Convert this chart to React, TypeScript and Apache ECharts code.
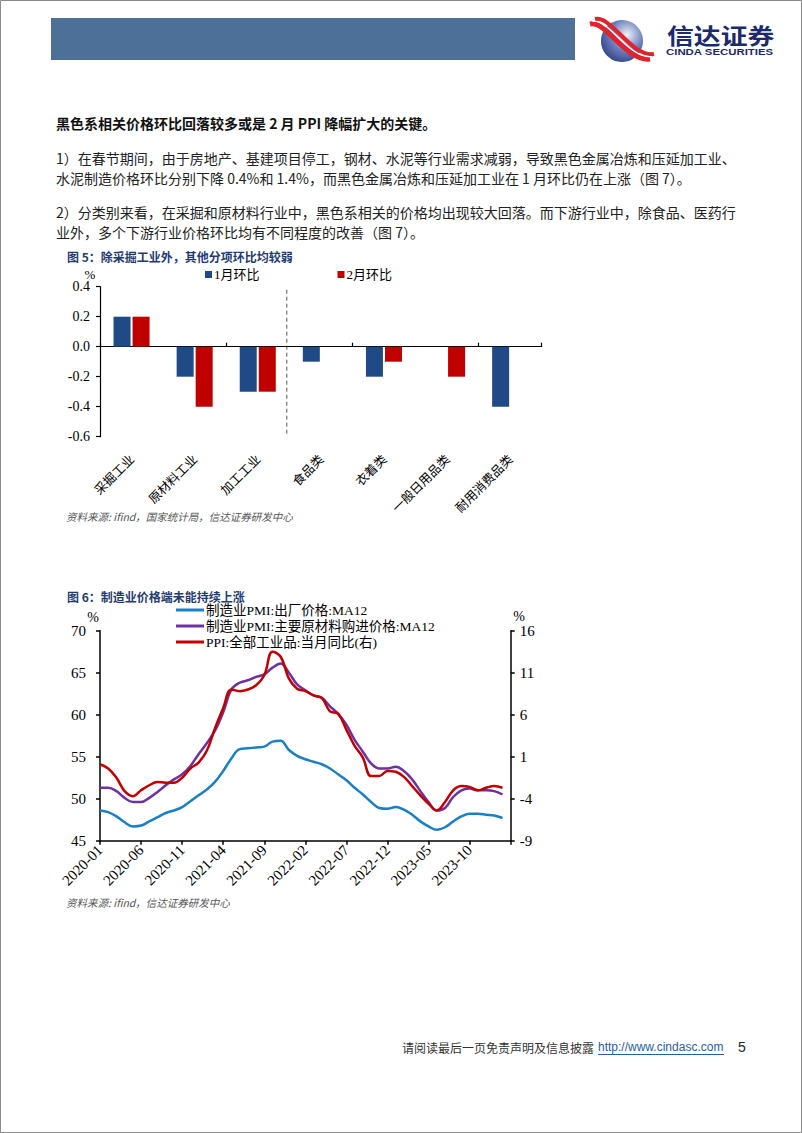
import React, { useEffect, useRef } from "react";
import * as echarts from "echarts";

// ---------- Data: figure 5 ----------
const barCategories = ["采掘工业", "原材料工业", "加工工业", "食品类", "衣着类", "一般日用品类", "耐用消费品类"];
const barSeriesNames = ["1月环比", "2月环比"];
const janMoM = [0.2, -0.2, -0.3, -0.1, -0.2, 0, -0.4];
const febMoM = [0.2, -0.4, -0.3, 0, -0.1, -0.2, 0];
const barYTicks = { min: -0.6, max: 0.4, interval: 0.2 };

// ---------- Data: figure 6 ----------
const months = [
  "2020-01", "2020-02", "2020-03", "2020-04", "2020-05", "2020-06", "2020-07", "2020-08", "2020-09", "2020-10", "2020-11", "2020-12",
  "2021-01", "2021-02", "2021-03", "2021-04", "2021-05", "2021-06", "2021-07", "2021-08", "2021-09", "2021-10", "2021-11", "2021-12",
  "2022-01", "2022-02", "2022-03", "2022-04", "2022-05", "2022-06", "2022-07", "2022-08", "2022-09", "2022-10", "2022-11", "2022-12",
  "2023-01", "2023-02", "2023-03", "2023-04", "2023-05", "2023-06", "2023-07", "2023-08", "2023-09", "2023-10", "2023-11", "2023-12",
  "2024-01", "2024-02", "2024-03",
];
const lineSeriesNames = ["制造业PMI:出厂价格:MA12", "制造业PMI:主要原材料购进价格:MA12", "PPI:全部工业品:当月同比(右)"];
const pmiOutputMA12 = [
  48.6, 48.4, 47.9, 47.2, 46.7, 46.8, 47.3, 47.8, 48.3, 48.6, 49.0, 49.7,
  50.4, 51.1, 52.0, 53.3, 54.8, 55.9, 56.0, 56.1, 56.2, 56.8, 56.9, 55.8,
  55.1, 54.7, 54.4, 54.1, 53.6, 52.9, 52.2, 51.3, 50.5, 49.6, 48.9, 48.8,
  49.0, 48.7, 48.1, 47.3, 46.7, 46.3, 46.6, 47.3, 47.9, 48.2, 48.2, 48.1,
  48.0, 47.7, null,
];
const pmiInputMA12 = [
  51.3, 51.3, 50.9, 50.1, 49.6, 49.6, 50.1, 50.8, 51.6, 52.3, 52.9, 53.9,
  55.3, 56.6, 58.1, 60.3, 63.0, 63.8, 64.1, 64.5, 64.8, 65.6, 66.1, 65.0,
  63.6, 62.9, 62.3, 62.0, 61.0, 60.1, 58.8, 57.0, 55.6, 54.2, 53.6, 53.6,
  53.8, 53.3, 52.3, 50.9, 49.6, 48.6, 48.9, 50.2, 51.0, 51.2, 51.0, 51.0,
  50.9, 50.5, null,
];
const ppiYoY = [
  0.1, -0.4, -1.5, -3.1, -3.7, -3.0, -2.4, -2.0, -2.1, -2.1, -1.5, -0.4,
  0.3, 1.7, 4.4, 6.8, 9.0, 8.8, 9.0, 9.5, 10.7, 13.5, 12.9, 10.3,
  9.1, 8.8, 8.3, 8.0, 6.4, 6.1, 4.2, 2.3, 0.9, -1.3, -1.3, -0.7,
  -0.8, -1.4, -2.5, -3.6, -4.6, -5.4, -4.4, -3.0, -2.5, -2.6, -3.0, -2.7,
  -2.5, -2.7, null,
];
const leftTicks = { min: 45, max: 70, interval: 5 };
const rightTicks = { min: -9, max: 16, interval: 5 };
const labelEvery = 5;

// ---------- Page text ----------
const bodyLines = [
  "黑色系相关价格环比回落较多或是 2 月 PPI 降幅扩大的关键。",
  "1）在春节期间，由于房地产、基建项目停工，钢材、水泥等行业需求减弱，导致黑色金属冶炼和压延加工业、",
  "水泥制造价格环比分别下降 0.4%和 1.4%，而黑色金属冶炼和压延加工业在 1 月环比仍在上涨（图 7）。",
  "2）分类别来看，在采掘和原材料行业中，黑色系相关的价格均出现较大回落。而下游行业中，除食品、医药行",
  "业外，多个下游行业价格环比均有不同程度的改善（图 7）。",
];
const title5 = "图 5：除采掘工业外，其他分项环比均较弱";
const title6 = "图 6：制造业价格端未能持续上涨";
const source5 = "资料来源: ifind，国家统计局，信达证券研发中心";
const source6 = "资料来源: ifind，信达证券研发中心";

const SERIF = "'Liberation Serif','Times New Roman','Noto Sans CJK SC',serif";
const CJK = "'Noto Sans CJK SC','Noto Sans',sans-serif";
const SANS = "'Liberation Sans',Arial,'Noto Sans CJK SC',sans-serif";

const BLUE_BAR = "#1f4a86";
const RED = "#c00000";
const BLUE_LINE = "#1b7fc4";
const PURPLE = "#7030a0";

function txt(text: string, x: number, y: number, o: any = {}) {
  return {
    type: "text",
    silent: true,
    x,
    y,
    scaleX: o.scaleX || 1,
    style: {
      text,
      x: 0,
      y: 0,
      fill: o.fill || "#222",
      fontSize: o.fontSize || 14,
      fontFamily: o.fontFamily || CJK,
      fontWeight: o.fontWeight || "normal",
      fontStyle: o.fontStyle || "normal",
      align: o.align || "left",
      verticalAlign: "middle",
      textAlign: o.align || "left",
      textVerticalAlign: "middle",
    },
  };
}

export default function App() {
  const ref = useRef<HTMLDivElement>(null);

  useEffect(() => {
    document.body.style.margin = "0";
    if (!ref.current) return;
    const chart = echarts.init(ref.current, undefined, { renderer: "svg" });

    const option: any = {
      animation: false,
      backgroundColor: "#fff",
      grid: [
        { left: 100, top: 286.7, width: 441.7, height: 150 },
        { left: 100, top: 630.7, width: 410.7, height: 210 },
      ],
      legend: [
        {
          data: barSeriesNames,
          left: 205,
          top: 268,
          padding: 0,
          icon: "rect",
          itemWidth: 7,
          itemHeight: 7,
          itemGap: 78,
          textStyle: { fontFamily: SERIF, fontSize: 13, color: "#000", padding: [0, 0, 0, -3] },
        },
        {
          data: lineSeriesNames,
          orient: "vertical",
          left: 176,
          top: 603,
          padding: 0,
          icon: "rect",
          itemWidth: 28,
          itemHeight: 3,
          itemGap: 2,
          textStyle: { fontFamily: SERIF, fontSize: 13.5, color: "#000", lineHeight: 14, padding: [0, 0, 0, -3] },
        },
      ],
      xAxis: [
        {
          type: "category",
          gridIndex: 0,
          data: barCategories,
          axisLine: { show: false, onZero: false },
          axisTick: { show: false },
          axisLabel: { interval: 0, rotate: 45, margin: 20, fontFamily: CJK, fontSize: 12.5, color: "#000" },
        },
        {
          type: "category",
          gridIndex: 0,
          data: barCategories,
          axisLine: { show: true, onZero: true, lineStyle: { color: "#000", width: 1.2 } },
          axisTick: { show: true, length: 4, lineStyle: { color: "#000", width: 1.2 } },
          axisLabel: { show: false },
        },
        {
          type: "category",
          gridIndex: 1,
          data: months,
          boundaryGap: false,
          axisLine: { show: true, onZero: false, lineStyle: { color: "#000", width: 1.5 } },
          axisTick: {
            show: true,
            length: 4,
            interval: (i: number) => i % labelEvery === 0,
            lineStyle: { color: "#000", width: 1.5 },
          },
          axisLabel: {
            interval: (i: number) => i % labelEvery === 0 && i < months.length - 1,
            rotate: 45,
            margin: 7,
            fontFamily: SERIF,
            fontSize: 15,
            color: "#000",
          },
        },
      ],
      yAxis: [
        {
          type: "value",
          gridIndex: 0,
          ...barYTicks,
          axisLine: { show: true, lineStyle: { color: "#000", width: 1.2 } },
          axisTick: { show: true, length: 4, lineStyle: { color: "#000", width: 1.2 } },
          splitLine: { show: false },
          axisLabel: {
            margin: 10,
            fontFamily: SERIF,
            fontSize: 14,
            color: "#000",
            formatter: (v: number) => v.toFixed(1),
          },
        },
        {
          type: "value",
          gridIndex: 1,
          position: "left",
          ...leftTicks,
          axisLine: { show: true, lineStyle: { color: "#000", width: 1.5 } },
          axisTick: { show: true, length: 4, lineStyle: { color: "#000", width: 1.5 } },
          splitLine: { show: false },
          axisLabel: { margin: 14, fontFamily: SERIF, fontSize: 15, color: "#000" },
        },
        {
          type: "value",
          gridIndex: 1,
          position: "right",
          ...rightTicks,
          axisLine: { show: true, lineStyle: { color: "#000", width: 1.5 } },
          axisTick: { show: true, length: 4, lineStyle: { color: "#000", width: 1.5 } },
          splitLine: { show: false },
          axisLabel: { margin: 9, fontFamily: SERIF, fontSize: 15, color: "#000" },
        },
      ],
      series: [
        {
          type: "bar",
          name: barSeriesNames[0],
          data: janMoM,
          xAxisIndex: 0,
          yAxisIndex: 0,
          barWidth: 17,
          barGap: "12%",
          itemStyle: { color: BLUE_BAR },
        },
        {
          type: "bar",
          name: barSeriesNames[1],
          data: febMoM,
          xAxisIndex: 0,
          yAxisIndex: 0,
          barWidth: 17,
          barGap: "12%",
          itemStyle: { color: RED },
        },
        {
          type: "line",
          name: lineSeriesNames[0],
          data: pmiOutputMA12,
          xAxisIndex: 2,
          yAxisIndex: 1,
          smooth: 0.4,
          symbol: "none",
          lineStyle: { width: 2.5, color: BLUE_LINE },
          itemStyle: { color: BLUE_LINE },
        },
        {
          type: "line",
          name: lineSeriesNames[1],
          data: pmiInputMA12,
          xAxisIndex: 2,
          yAxisIndex: 1,
          smooth: 0.4,
          symbol: "none",
          lineStyle: { width: 2.5, color: PURPLE },
          itemStyle: { color: PURPLE },
        },
        {
          type: "line",
          name: lineSeriesNames[2],
          data: ppiYoY,
          xAxisIndex: 2,
          yAxisIndex: 2,
          smooth: 0.4,
          symbol: "none",
          lineStyle: { width: 2.5, color: RED },
          itemStyle: { color: RED },
        },
      ],
    };
    chart.setOption(option);

    // dashed separator between 加工工业 and 食品类, positioned through the axis scale
    const xa = chart.convertToPixel({ xAxisIndex: 0 }, barCategories[2]) as number;
    const xb = chart.convertToPixel({ xAxisIndex: 0 }, barCategories[3]) as number;
    const yTop = chart.convertToPixel({ yAxisIndex: 0 }, 0.38) as number;
    const yBot = chart.convertToPixel({ yAxisIndex: 0 }, barYTicks.min) as number;
    const sepX = (xa + xb) / 2 - 2.5;

    const graphic: any[] = [
      // page frame
      {
        type: "rect",
        silent: true,
        shape: { x: 0.5, y: 0.5, width: 801, height: 1132 },
        style: { fill: "none", stroke: "#8a8a8a", lineWidth: 1 },
      },
      // header bar
      { type: "rect", silent: true, shape: { x: 51, y: 18, width: 524, height: 42 }, style: { fill: "#4d7099" } },
      // logo sphere
      {
        type: "circle",
        silent: true,
        shape: { cx: 622, cy: 41, r: 21 },
        style: {
          fill: {
            type: "radial",
            x: 0.62,
            y: 0.35,
            r: 0.85,
            colorStops: [
              { offset: 0, color: "#eef1f8" },
              { offset: 0.45, color: "#6d80bd" },
              { offset: 1, color: "#1b2a72" },
            ],
          },
        },
      },
      {
        type: "bezierCurve",
        silent: true,
        shape: { x1: 590, y1: 24, cpx1: 606, cpy1: 20, cpx2: 626, cpy2: 62, x2: 650, y2: 59 },
        style: { stroke: "#e3232c", lineWidth: 5, fill: "none" },
      },
      {
        type: "bezierCurve",
        silent: true,
        shape: { x1: 595, y1: 19, cpx1: 611, cpy1: 15, cpx2: 631, cpy2: 57, x2: 654, y2: 54 },
        style: { stroke: "#e3232c", lineWidth: 4, fill: "none" },
      },
      {
        type: "bezierCurve",
        silent: true,
        shape: { x1: 592.5, y1: 21.5, cpx1: 608.5, cpy1: 17.5, cpx2: 628.5, cpy2: 59.5, x2: 652, y2: 56.5 },
        style: { stroke: "#ffffff", lineWidth: 1.2, fill: "none" },
      },
      txt("信达证券", 667, 35, { fontSize: 22, fontWeight: "bold", fill: "#1b2a6b", fontFamily: CJK, scaleX: 1.22 }),
      txt("CINDA SECURITIES", 666, 52, { fontSize: 9.5, fontWeight: "bold", fill: "#1b2a6b", fontFamily: SANS, scaleX: 1.2 }),
      // body text
      txt(bodyLines[0], 56, 123, { fontSize: 14, fontWeight: "bold", fill: "#111" }),
      txt(bodyLines[1], 56, 158, { fontSize: 14 }),
      txt(bodyLines[2], 56, 178, { fontSize: 14 }),
      txt(bodyLines[3], 56, 212, { fontSize: 14 }),
      txt(bodyLines[4], 56, 232, { fontSize: 14 }),
      // figure 5 decorations
      txt(title5, 67, 256, { fontSize: 12, fontWeight: "bold", fill: "#1f3b70" }),
      txt("%", 90, 274, { fontSize: 13, fontFamily: SERIF, fill: "#000", align: "center" }),
      txt(source5, 66, 516, { fontSize: 10.5, fontStyle: "italic", fill: "#555" }),
      {
        type: "line",
        silent: true,
        shape: { x1: sepX, y1: yTop, x2: sepX, y2: yBot },
        style: { stroke: "#555", lineWidth: 1, lineDash: [4, 3] },
      },
      // figure 6 decorations
      txt(title6, 67, 596, { fontSize: 12, fontWeight: "bold", fill: "#1f3b70" }),
      txt("%", 93, 617, { fontSize: 14, fontFamily: SERIF, fill: "#000", align: "center" }),
      txt("%", 519, 616, { fontSize: 14, fontFamily: SERIF, fill: "#000", align: "center" }),
      txt(source6, 66, 902, { fontSize: 10.5, fontStyle: "italic", fill: "#555" }),
      // footer
      txt("请阅读最后一页免责声明及信息披露", 402, 1047, { fontSize: 12, fill: "#333" }),
      txt("http://www.cindasc.com", 598, 1047, { fontSize: 12, fontFamily: SANS, fill: "#2a5caa" }),
      {
        type: "line",
        silent: true,
        shape: { x1: 598, y1: 1054.5, x2: 724, y2: 1054.5 },
        style: { stroke: "#2a5caa", lineWidth: 1 },
      },
      txt("5", 738, 1047, { fontSize: 14, fontFamily: SANS, fill: "#222" }),
    ];
    chart.setOption({ graphic });

    return () => chart.dispose();
  }, []);

  return <div ref={ref} style={{ width: 802, height: 1133 }} />;
}
